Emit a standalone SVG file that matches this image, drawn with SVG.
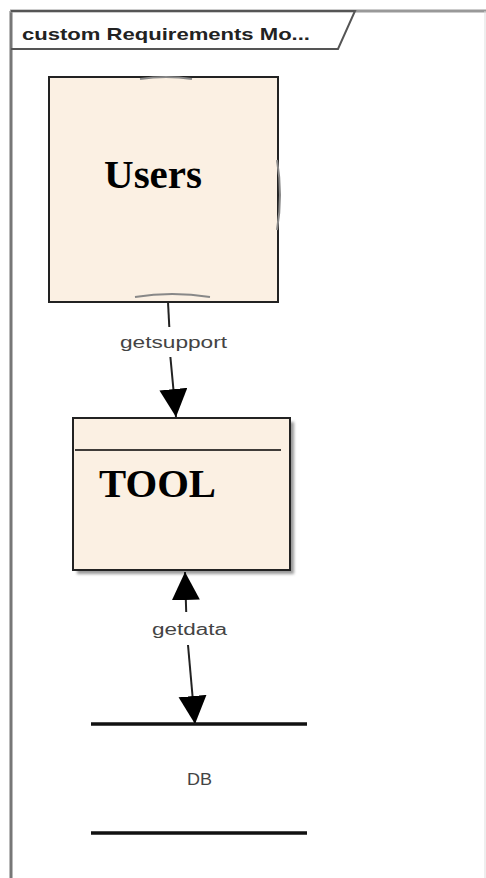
<svg xmlns="http://www.w3.org/2000/svg" width="486" height="878" viewBox="0 0 486 878">
<defs>
<style>
.node{fill:#FBF0E3;stroke:#222;stroke-width:2}
.big{font-family:"Liberation Serif",serif;font-weight:bold;font-size:40px;fill:#000}
.lbl{font-family:"Liberation Sans",Arial,sans-serif;font-size:16px;fill:#444}
.conn{stroke:#222;stroke-width:2;fill:none}
.arc{stroke:#888;stroke-width:2;fill:none}
</style>
<marker id="ah" viewBox="0 0 28 36" refX="28" refY="14" markerWidth="28" markerHeight="36" markerUnits="userSpaceOnUse" orient="auto-start-reverse">
<path d="M0,0 L28,14 L0,28 Z" fill="#000"/>
</marker>
<filter id="sh" x="-10%" y="-10%" width="130%" height="130%"><feGaussianBlur stdDeviation="1.5"/></filter>
</defs>
<rect width="486" height="878" fill="#fff"/>
<g id="frame">
<line x1="11" y1="11" x2="11" y2="878" stroke="#777" stroke-width="3"/>
<line x1="10" y1="11" x2="486" y2="11" stroke="#999" stroke-width="3"/>
<line x1="485" y1="11" x2="485" y2="878" stroke="#ddd" stroke-width="1"/>
<path d="M11,11 L355,11 L338,49 L11,49" fill="none" stroke="#555" stroke-width="2"/>
<text x="22" y="40" font-family="Liberation Sans,Arial,sans-serif" font-weight="bold" font-size="17" fill="#222" textLength="288" lengthAdjust="spacingAndGlyphs">custom Requirements Mo...</text>
</g>
<g id="users">
<rect class="node" x="49" y="77" width="229" height="225"/>
<path class="arc" d="M140,79 Q166,75 192,79"/>
<path class="arc" d="M135,297 Q172,291 210,297"/>
<path class="arc" d="M277,160 Q283,195 277,230"/>
<text class="big" x="104" y="188" textLength="98" lengthAdjust="spacingAndGlyphs">Users</text>
</g>
<g id="tool">
<rect x="77" y="422" width="217" height="152" fill="#999" filter="url(#sh)"/>
<rect class="node" x="73" y="418" width="217" height="152"/>
<line x1="75" y1="450" x2="281" y2="450" stroke="#000" stroke-width="1.5"/>
<text class="big" x="99" y="497" textLength="117" lengthAdjust="spacingAndGlyphs">TOOL</text>
</g>
<g id="db">
<line x1="91" y1="724" x2="307" y2="724" stroke="#111" stroke-width="3.5"/>
<line x1="91" y1="833" x2="307" y2="833" stroke="#111" stroke-width="3.5"/>
<text class="lbl" x="187" y="785" font-size="20" textLength="25" lengthAdjust="spacingAndGlyphs">DB</text>
</g>
<g id="connectors">
<path class="conn" d="M168,302 L169.3,327"/>
<path class="conn" d="M170.4,357 L176,417" marker-end="url(#ah)"/>
<text class="lbl" x="120" y="348" textLength="107" lengthAdjust="spacingAndGlyphs">getsupport</text>
<path class="conn" d="M185,572 L186.2,612" marker-start="url(#ah)"/>
<path class="conn" d="M188,645 L195,724" marker-end="url(#ah)"/>
<text class="lbl" x="152" y="635" textLength="75" lengthAdjust="spacingAndGlyphs">getdata</text>
</g>
</svg>
